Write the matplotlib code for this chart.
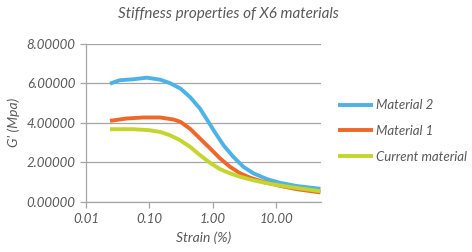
import matplotlib
matplotlib.use("Agg")
import matplotlib.pyplot as plt
from matplotlib.ticker import FixedLocator, NullLocator

strain2 = [0.024, 0.034, 0.056, 0.091, 0.148, 0.21, 0.31, 0.44, 0.63, 0.855, 1.03, 1.48, 2.12, 3.05, 4.4, 7.2, 11.6, 21.4, 50.0]
material2 = [5.98, 6.15, 6.20, 6.28, 6.18, 6.01, 5.73, 5.30, 4.72, 4.05, 3.63, 2.87, 2.28, 1.78, 1.45, 1.16, 0.97, 0.81, 0.67]

strain1 = [0.024, 0.044, 0.080, 0.148, 0.24, 0.31, 0.44, 0.63, 0.91, 1.31, 1.88, 2.71, 3.9, 6.3, 11.6, 21.4, 50.0]
material1 = [4.10, 4.22, 4.27, 4.27, 4.17, 4.05, 3.70, 3.21, 2.71, 2.20, 1.78, 1.45, 1.23, 1.02, 0.82, 0.65, 0.49]

strain0 = [0.024, 0.056, 0.10, 0.148, 0.21, 0.30, 0.44, 0.63, 0.91, 1.31, 1.88, 2.71, 3.9, 6.3, 11.6, 21.4, 50.0]
current = [3.68, 3.68, 3.63, 3.54, 3.38, 3.14, 2.79, 2.37, 1.98, 1.66, 1.45, 1.28, 1.14, 0.99, 0.84, 0.71, 0.55]

xticks = [0.01, 0.1, 1, 10]
xticklabels = ["0.01", "0.10", "1.00", "10.00"]
yticks = [0, 2, 4, 6, 8]
yticklabels = ["0.00000", "2.00000", "4.00000", "6.00000", "8.00000"]

series = [("Material 2", strain2, material2, "#4DB3E6"),
          ("Material 1", strain1, material1, "#F0672A"),
          ("Current material", strain0, current, "#C4D52E")]

plt.rcParams['font.family'] = ['Lato', 'DejaVu Sans']
txt = "#595959"

fig = plt.figure(figsize=(4.72, 2.52), dpi=100)
ax = fig.add_axes([0.182, 0.198, 0.498, 0.629])
for name, xs, vals, col in series:
    ax.plot(xs, vals, color=col, lw=2.8, label=name, solid_capstyle='butt',
            solid_joinstyle='round')

ax.set_xscale('log')
ax.set_xlim(0.01, 51)
ax.set_ylim(0, 8)
ax.xaxis.set_major_locator(FixedLocator(xticks))
ax.xaxis.set_minor_locator(NullLocator())
ax.set_xticks(xticks)
ax.set_xticklabels(xticklabels)
ax.set_yticks(yticks)
ax.set_yticklabels(yticklabels)
ax.grid(axis='y', color='#A6A6A6', lw=0.9)
ax.set_axisbelow(True)
for s in ['top', 'right']:
    ax.spines[s].set_visible(False)
for s in ['left', 'bottom']:
    ax.spines[s].set_color('#A6A6A6')
    ax.spines[s].set_linewidth(0.9)
ax.tick_params(axis='both', colors='#A6A6A6', labelcolor=txt, labelsize=9.5, length=4, width=0.9)
for lab in ax.get_xticklabels() + ax.get_yticklabels():
    lab.set_fontstyle('italic')

ax.set_xlabel("Strain (%)", fontsize=10, fontstyle='italic', color=txt, labelpad=5)
ax.set_ylabel("G' (Mpa)", fontsize=10, fontstyle='italic', color=txt, labelpad=5)
fig.text(0.485, 0.945, "Stiffness properties of X6 materials", ha='center', va='center',
         fontsize=11, fontstyle='italic', color=txt)

leg = ax.legend(loc='center left', bbox_to_anchor=(1.022, 0.448), frameon=False,
                fontsize=9.5, handlelength=2.65, handletextpad=0.2, labelspacing=1.05)
for t in leg.get_texts():
    t.set_fontstyle('italic')
    t.set_color(txt)

fig.savefig("out.png", dpi=100)
